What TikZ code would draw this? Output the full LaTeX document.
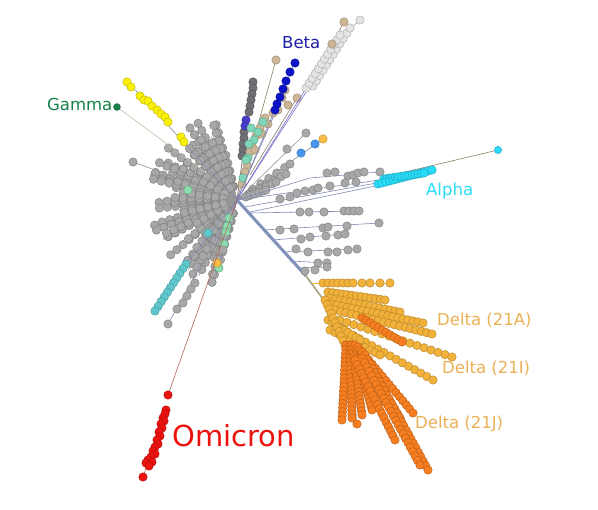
\documentclass[tikz,border=0pt]{standalone}
\usepackage{fontspec}
\setmainfont{DejaVu Sans}
\usetikzlibrary{calc}

\definecolor{tipgray}{RGB}{168,168,168}
\definecolor{twiggray}{RGB}{150,150,150}
\definecolor{trunkblue}{RGB}{128,146,186}
\definecolor{trunktan}{RGB}{176,168,140}
\definecolor{linkblue}{RGB}{130,138,176}
\definecolor{purpleline}{RGB}{120,110,200}
\definecolor{gammagreen}{RGB}{22,128,72}
\definecolor{gammaline}{RGB}{196,190,168}
\definecolor{gammayellow}{RGB}{250,240,10}
\definecolor{betablue}{RGB}{12,20,200}
\definecolor{betalabel}{RGB}{30,30,170}
\definecolor{alphacyan}{RGB}{40,222,250}
\definecolor{deltalight}{RGB}{242,178,58}
\definecolor{deltadark}{RGB}{246,126,32}
\definecolor{deltalabel}{RGB}{236,176,86}
\definecolor{omired}{RGB}{236,18,14}
\definecolor{omiline}{RGB}{176,100,84}
\definecolor{tealtip}{RGB}{96,200,204}
\definecolor{tantip}{RGB}{204,182,150}
\definecolor{minttip}{RGB}{140,222,176}
\definecolor{palegray}{RGB}{228,228,228}
\definecolor{darktip}{RGB}{112,112,116}
\definecolor{purpletip}{RGB}{70,60,200}
\definecolor{skytip}{RGB}{70,150,240}
\definecolor{ambertip}{RGB}{250,190,70}

\tikzset{
  leaf/.style={fill=#1, draw=#1!78!black, line width=0.5pt},
  twig/.style={draw=#1, line width=0.6pt},
  twig/.default=twiggray,
  trunk/.style={draw=trunkblue, line width=3pt},
  clade/.style={font=\fontsize{16.5}{18}\selectfont, anchor=base west, inner sep=0pt, text=#1}
}

\begin{document}
\begin{tikzpicture}[x=1pt, y=-1pt]
  \fill[white] (0,0) rectangle (598,510);
  \useasboundingbox (0,0) rectangle (598,510);
  \coordinate (hub) at (237,200);

  % Gray starburst round the hub
  \pgfmathsetseed{2021}
  \foreach \i in {1,...,115}{
    \pgfmathsetmacro\ang{105+158*rnd}
    \pgfmathsetmacro\len{32+60*rnd}
    \draw[twig] (hub) -- ++(\ang:\len);
    \foreach \r in {14,22,...,\len}
      \path[leaf=tipgray] ($(hub)+(\ang:\r)$) circle (4.2pt);
  }
  \draw[twig] (hub) -- (133,162);
  \path[leaf=tipgray] (133,162) circle (4.2pt);
  \path[leaf=minttip] (188,190) circle (4.2pt);

  % Gamma
  \coordinate (gammatip) at (117,107);
  \draw[twig=gammaline] (gammatip) -- (205,172);
  \path[leaf=gammagreen] (gammatip) circle (3.4pt);
  \node[clade=gammagreen] (gamma) at (47,111) {Gamma};

  % Yellow branch
  \draw[twig=linkblue] (126,80) -- (hub);
  \foreach \x/\y in {127/82,131/87,140/96,144/100,148/101,152/106,157/110,161/114,165/117,168/122,181/137,184/142}
    \path[leaf=gammayellow] (\x,\y) circle (4.2pt);

  % Dark gray column
  \draw[twig=darktip] (253,80) -- (hub);
  \foreach \x/\y in {253/82,253/88,252/94,251/100,250/106,249/112,244/132,244/138,243/144,243/150,242/156}
    \path[leaf=darktip] (\x,\y) circle (4.2pt);
  \foreach \x/\y in {246/120,245/126}
    \path[leaf=purpletip] (\x,\y) circle (4.2pt);

  % Tan and teal column
  \draw[twig=tantip!70!black] (276,60) -- (hub);
  \path[leaf=tantip] (276,60) circle (4.2pt);
  \draw[twig=purpleline] (hub) -- (285,90);
  \draw[twig=tantip!70!black] (297,98) -- (250,175);
  \foreach \x/\y in {285/90,297/98,282/98,288/105,278/110,273/113,265/118,260/128,256/136,252/146,250/152,247/165,245/172,242/184,268/124,262/134,255/150}
    \path[leaf=tantip] (\x,\y) circle (4.2pt);
  \foreach \x/\y in {263/122,258/132,254/140,248/158,243/178,251/128,249/144,246/160}
    \path[leaf=minttip!70!tealtip] (\x,\y) circle (4.2pt);

  % Beta
  \draw[twig=linkblue] (295,62) -- (hub);
  \foreach \x/\y in {295/63,290/72,286/81,283/89,280/97,277/104,275/110}
    \path[leaf=betablue] (\x,\y) circle (4.2pt);
  \node[clade=betalabel] (beta) at (282,49) {Beta};

  % Pale branch to the top right
  \draw[twig=purpleline] (hub) -- (310,86);
  \draw[twig=purpleline] (hub) -- (305,90);
  \draw[twig=tantip!70!black] (332,44) -- (344,22);
  \draw[twig=palegray!70!black] (338,40) -- (360,20);
  \foreach \k in {0,...,11}{
    \pgfmathsetmacro\t{\k/11}
    \path[leaf=palegray] ($(306,88)!\t!(340,35)$) circle (4.2pt);
    \path[leaf=palegray] ($(313,86)!\t!(350,28)$) circle (4.2pt);
  }
  \path[leaf=palegray] (360,20) circle (4.2pt);
  \path[leaf=tantip] (332,44) circle (4.2pt);
  \path[leaf=tantip] (344,22) circle (4.2pt);

  % Short branch to the right of Beta
  \draw[twig] (hub) -- (306,133);
  \draw[twig=linkblue] (hub) -- (323,139);
  \path[leaf=tipgray] (287,149) circle (4.2pt);
  \path[leaf=tipgray] (306,133) circle (4.2pt);
  \path[leaf=skytip] (301,153) circle (4.2pt);
  \path[leaf=skytip] (315,144) circle (4.2pt);
  \path[leaf=ambertip] (323,139) circle (4.2pt);

  % Gray dots right of the hub
  \foreach \a/\b in {290/164,286/174,276/182,266/190}{
    \draw[twig] (hub) -- (\a,\b);
    \foreach \t in {0.3,0.45,0.6,0.75,0.9,1}
      \path[leaf=tipgray] ($(hub)!\t!(\a,\b)$) circle (4.2pt);
  }

  % Alpha
  \draw[twig=tantip!70!black] (380,178) -- (498,150);
  \draw[twig=linkblue] (hub) -- (310,178) -- (380,172);
  \draw[twig=linkblue] (245,207) -- (382,182);
  \draw[twig=linkblue] (250,212) -- (385,184);
  \draw[twig=linkblue] (hub) -- (380,180);
  \foreach \x/\y in {327/173,335/172,348/176,353/175,358/173,364/172,380/172,297/193,305/191,313/190,318/188,330/186,345/183,356/182,290/197,280/199}
    \path[leaf=tipgray] (\x,\y) circle (4.2pt);
  \foreach \k in {0,...,14}{
    \pgfmathsetmacro\t{\k/14}
    \path[leaf=alphacyan] ($(378,184)!\t!(432,170)$) circle (4.2pt);
    \path[leaf=alphacyan] ($(384,179)!\t!(424,173)$) circle (4.2pt);
  }
  \path[leaf=alphacyan] (498,150) circle (3.6pt);
  \node[clade=alphacyan] (alpha) at (426,196) {Alpha};

  % Trunk and gray rows below Alpha
  \draw[twig=linkblue] (250,213) -- (358,211);
  \draw[twig=linkblue] (264,230) -- (379,223);
  \draw[twig=linkblue] (273,240) -- (345,234);
  \draw[twig=linkblue] (283,252) -- (357,249);
  \draw[twig=linkblue] (290,261) -- (328,263);
  \draw[twig=linkblue] (297,268) -- (328,267);
  \draw[trunk] (hub) -- (306,276);
  \draw[twig=trunktan, line width=1.8pt] (306,276) -- (334,314);
  \foreach \x/\y in {300/212,309/212,324/212,344/211,349/211,354/211,359/211,
                     280/230,294/229,323/228,328/227,347/226,379/223,
                     301/239,310/237,326/236,338/235,345/234,
                     296/249,308/252,328/252,337/252,348/250,357/249,
                     318/263,327/263,
                     305/271,315/270,327/267}
    \path[leaf=tipgray] (\x,\y) circle (4.2pt);

  % Delta (21A)
  \draw[twig=deltalight] (312,283) -- (390,283);
  \foreach \x in {323,328,333,338,343,348,353,362,370,380,390}
    \path[leaf=deltalight] (\x,283) circle (4.2pt);
  \foreach \a/\b/\c/\d/\n in {328/292/385/300/12,330/298/400/312/14,332/304/423/323/18,
                              335/310/432/334/18,340/320/452/357/16,335/325/433/380/16,
                              330/330/380/355/10,328/320/360/340/8,325/300/345/345/10}{
    \draw[twig=tipgray] (\a,\b) -- (\c,\d);
    \foreach \k in {0,...,\n}{
      \pgfmathsetmacro\t{\k/\n}
      \path[leaf=deltalight] ($(\a,\b)!\t!(\c,\d)$) circle (4.2pt);
    }
  }
  \foreach \k in {0,...,10}{
    \pgfmathsetmacro\t{\k/10}
    \path[leaf=deltadark] ($(362,318)!\t!(402,342)$) circle (4.2pt);
  }
  \node[clade=deltalabel] (delta21a) at (437,326) {Delta (21A)};
  \node[clade=deltalabel] (delta21i) at (442,374) {Delta (21I)};

  % Delta (21J)
  \draw[twig=tipgray] (355,400) -- (357,424);
  \path[leaf=deltadark] (357,424) circle (4.2pt);
  \foreach \a/\b/\c/\d/\n in {346/345/342/420/18,350/345/352/418/18,352/345/362/415/18,
                              355/345/372/410/16,358/347/385/402/14,360/350/400/418/16,
                              362/352/413/413/15,365/355/428/470/26,362/358/420/465/24,
                              355/360/395/440/18}{
    \draw[twig=tipgray] (\a,\b) -- (\c,\d);
    \foreach \k in {0,...,\n}{
      \pgfmathsetmacro\t{\k/\n}
      \path[leaf=deltadark] ($(\a,\b)!\t!(\c,\d)$) circle (4.2pt);
    }
  }
  \node[clade=deltalabel] (delta21j) at (415,429) {Delta (21J)};

  % Lower left branches
  \draw[twig=linkblue] (hub) -- (186,264);
  \draw[twig=linkblue] (186,264) -- (155,311);
  \foreach \k in {0,...,10}{
    \pgfmathsetmacro\t{\k/10}
    \path[leaf=tealtip] ($(186,264)!\t!(155,311)$) circle (4.2pt);
  }
  \draw[twig=linkblue] (hub) -- (168,324);
  \foreach \x/\y in {207/249,203/256,195/283,191/289,187/296,183/303,177/309,168/324}
    \path[leaf=tipgray] (\x,\y) circle (4.2pt);
  \draw[twig=linkblue] (hub) -- (219,268);
  \foreach \x/\y in {229/218,227/226,226/232,224/244,219/268}
    \path[leaf=minttip] (\x,\y) circle (4.2pt);
  \path[leaf=tipgray] (223,250) circle (4.2pt);
  \path[leaf=ambertip] (217,263) circle (4.2pt);
  \path[leaf=tealtip] (208,233) circle (4.2pt);

  % Omicron
  \draw[twig=omiline] (hub) -- (168,395);
  \draw[twig=omiline] (147,465) -- (143,477);
  \foreach \x/\y in {168/395,166/410,165/414,163/418,164/421,161/424,162/428,159/432,160/436,157/440,
                     158/444,155/447,153/451,155/454,151/457,148/460,152/462,146/463,149/466,143/477}
    \path[leaf=omired] (\x,\y) circle (4.2pt);
  \node[font=\fontsize{29}{32}\selectfont, anchor=base west, inner sep=0pt, text=omired] (omicron) at (172,447) {Omicron};
\end{tikzpicture}
\end{document}
